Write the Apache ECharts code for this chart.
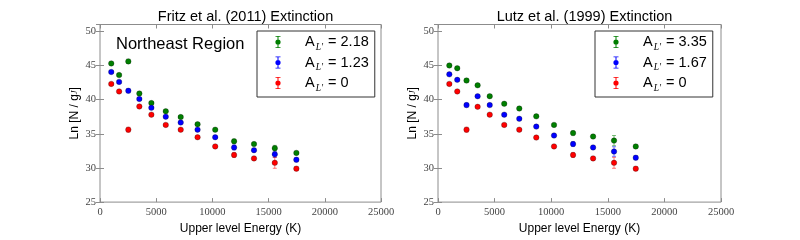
<!DOCTYPE html>
<html><head><meta charset="utf-8">
<script src="https://cdn.jsdelivr.net/npm/echarts@6/dist/echarts.min.js"></script>
<style>html,body{margin:0;padding:0;background:#fff}#c{width:800px;height:240px}</style>
</head><body><div id="c"></div>
<script>
// ---- data ----
const energyK = [1000,1700,2520,3500,4570,5850,7180,8680,10250,11930,13700,15550,17470];
// Fritz et al. (2011)
const fritzGreen = [45.3,43.6,45.6,40.9,39.5,38.3,37.45,36.4,35.6,33.9,33.5,32.9,32.2];
const fritzGreenErr = [0.2,0.2,0.3,0.2,0.2,0.2,0.2,0.2,0.2,0.3,0.2,0.4,0.25];
const fritzBlue = [44.05,42.6,41.3,40.1,38.8,37.5,36.65,35.6,34.5,33.0,32.6,32.0,31.2];
const fritzBlueErr = [0.15,0.15,0.3,0.15,0.15,0.15,0.15,0.15,0.15,0.35,0.2,0.45,0.3];
const fritzRed = [42.3,41.2,35.6,39.0,37.8,36.3,35.6,34.5,33.15,31.9,31.4,30.75,29.9];
const fritzRedErr = [0.15,0.15,0.35,0.15,0.15,0.15,0.15,0.15,0.15,0.35,0.2,0.8,0.3];
// Lutz et al. (1999)
const lutzGreen = [45.0,44.6,42.8,42.1,40.5,39.4,38.7,37.55,36.3,35.1,34.6,34.0,33.15];
const lutzGreenErr = [0.2,0.2,0.3,0.2,0.2,0.2,0.2,0.2,0.2,0.3,0.2,0.75,0.25];
const lutzBlue = [43.7,42.9,39.2,40.5,39.2,37.8,37.2,36.05,34.75,33.5,33.0,32.4,31.5];
const lutzBlueErr = [0.15,0.15,0.3,0.15,0.15,0.15,0.15,0.15,0.15,0.35,0.2,0.7,0.3];
const lutzRed = [42.3,41.2,35.6,38.95,37.8,36.3,35.6,34.45,33.15,31.9,31.4,30.75,29.9];
const lutzRedErr = [0.15,0.15,0.35,0.15,0.15,0.15,0.15,0.15,0.15,0.35,0.2,0.8,0.3];
const fritzLabels = ['2.18','1.23','0'];
const lutzLabels = ['3.35','1.67','0'];
const titles = ['Fritz et al. (2011) Extinction','Lutz et al. (1999) Extinction'];
const regionLabel = 'Northeast Region';
const xName = 'Upper level Energy (K)';

// ---- styling ----
const colors = ['#007f00','#0000ff','#ff0000'];
const errColors = ['rgba(0,128,0,0.5)','rgba(0,0,255,0.5)','rgba(255,0,0,0.5)'];
const frame = '#8c8c8c';
const serif = 'Liberation Serif';
const sans = 'Liberation Sans';

const chart = echarts.init(document.getElementById('c'), null, {renderer:'canvas'});

const grids = [
  {left:100, right:419, top:24.5, bottom:31, show:true, borderColor:frame, borderWidth:1, backgroundColor:'#fff'},
  {left:438, right:79, top:24.5, bottom:31, show:true, borderColor:frame, borderWidth:1, backgroundColor:'#fff'}
];
const tick = {show:true, inside:true, length:4, lineStyle:{color:frame, width:1}};
const xAxes = [], yAxes = [];
[0,1].forEach(g => {
  xAxes.push({gridIndex:g, type:'value', min:0, max:25000, interval:5000, position:'bottom',
    axisLine:{show:false}, axisTick:tick, splitLine:{show:false},
    axisLabel:{fontFamily:serif, fontSize:10.5, color:'#444', margin:5, formatter: v => String(v)},
    name:xName, nameLocation:'middle', nameGap:13,
    nameTextStyle:{fontFamily:sans, fontSize:12, color:'#000'}});
  xAxes.push({gridIndex:g, type:'value', min:0, max:25000, interval:5000, position:'top',
    axisLine:{show:false}, axisTick:tick, splitLine:{show:false}, axisLabel:{show:false}});
  yAxes.push({gridIndex:g, type:'value', min:25, max:51, interval:5, position:'left',
    axisLine:{show:false}, axisTick:tick, splitLine:{show:false},
    axisLabel:{fontFamily:serif, fontSize:10.5, color:'#444', margin:4,
      formatter: v => (v % 5 === 0 ? String(v) : '')},
    name:'Ln [N / g{s|J}]', nameLocation:'middle', nameGap:19, nameRotate:90,
    nameTextStyle:{fontFamily:sans, fontSize:12, color:'#000',
      rich:{s:{fontFamily:serif, fontStyle:'italic', fontSize:8.5, color:'#000'}}}});
  yAxes.push({gridIndex:g, type:'value', min:25, max:51, interval:5, position:'right',
    axisLine:{show:false}, axisTick:tick, splitLine:{show:false}, axisLabel:{show:false}});
});

function errSeries(name, xAxisIndex, yAxisIndex, ys, errs, color) {
  return {
    name, type:'custom', xAxisIndex, yAxisIndex, silent:true, z:2,
    data: energyK.map((x,i) => [x, ys[i], errs[i]]),
    renderItem: (params, api) => {
      const x = api.value(0), y = api.value(1), e = api.value(2);
      const top = api.coord([x, y + e]);
      const bot = api.coord([x, y - e]);
      const cw = 2;
      const st = {stroke: color, lineWidth: 1};
      return {type:'group', children:[
        {type:'line', shape:{x1:top[0], y1:top[1], x2:bot[0], y2:bot[1]}, style:st},
        {type:'line', shape:{x1:top[0]-cw, y1:top[1], x2:top[0]+cw, y2:top[1]}, style:st},
        {type:'line', shape:{x1:bot[0]-cw, y1:bot[1], x2:bot[0]+cw, y2:bot[1]}, style:st}
      ]};
    }
  };
}
function dotSeries(name, xAxisIndex, yAxisIndex, ys, color) {
  return {
    name, type:'scatter', xAxisIndex, yAxisIndex, z:3,
    symbol:'circle', symbolSize:5.5,
    itemStyle:{color, borderColor:'rgba(0,0,0,0.55)', borderWidth:0.5, opacity:1},
    data: energyK.map((x,i) => [x, ys[i]])
  };
}
const series = [];
const fritzSets = [[fritzGreen,fritzGreenErr],[fritzBlue,fritzBlueErr],[fritzRed,fritzRedErr]];
const lutzSets = [[lutzGreen,lutzGreenErr],[lutzBlue,lutzBlueErr],[lutzRed,lutzRedErr]];
const fritzNames = fritzLabels.map(v => 'F' + v);
const lutzNames = lutzLabels.map(v => 'L' + v);
fritzSets.forEach((s,i) => {
  series.push(errSeries(fritzNames[i], 0, 0, s[0], s[1], errColors[i]));
  series.push(dotSeries(fritzNames[i], 0, 0, s[0], colors[i]));
});
lutzSets.forEach((s,i) => {
  series.push(errSeries(lutzNames[i], 2, 2, s[0], s[1], errColors[i]));
  series.push(dotSeries(lutzNames[i], 2, 2, s[0], colors[i]));
});

// legend icon: error bar with dot (bbox widened so text sits further right)
const icon = 'path://M0 6L0 6M38 6L38 6M15.5 0h1v12h-1zM13.5 0h5v0.8h-5zM13.5 11.2h5v0.8h-5zM13.4 6a2.6 2.6 0 1 1 5.2 0a2.6 2.6 0 1 1 -5.2 0z';
function legend(names, labels, left) {
  return {
    orient:'vertical', left, top:31, padding:[1,6,4,5],
    itemWidth:38, itemHeight:12, itemGap:0.5, selectedMode:false,
    borderColor:'#333', borderWidth:1, backgroundColor:'#fff',
    icon,
    data: names.map((n,i) => ({name:n, icon, itemStyle:{color:colors[i], borderWidth:0}})),
    formatter: n => {
      const i = names.indexOf(n);
      return '{a|A}{s|L′}{a| = ' + labels[i] + '}';
    },
    textStyle:{fontFamily:sans, fontSize:14.5, color:'#000', lineHeight:20,
      rich:{
        a:{fontFamily:sans, fontSize:14.5, color:'#000', lineHeight:20, verticalAlign:'middle'},
        s:{fontFamily:serif, fontStyle:'italic', fontSize:9.5, color:'#000', lineHeight:14, verticalAlign:'bottom', padding:[6,1,0,1]}
      }}
  };
}

const option = {
  animation:false,
  backgroundColor:'#fff',
  title:[
    {text:titles[0], left:240.5, top:4, textAlign:'center', textStyle:{fontFamily:sans, fontSize:14.5, fontWeight:'normal', color:'#000', lineHeight:16}},
    {text:titles[1], left:579.5, top:4, textAlign:'center', textStyle:{fontFamily:sans, fontSize:14.5, fontWeight:'normal', color:'#000', lineHeight:16}},
    {text:regionLabel, left:111, top:29, textStyle:{fontFamily:sans, fontSize:16.5, fontWeight:'normal', color:'#000', lineHeight:20}}
  ],
  grid: grids,
  xAxis: xAxes,
  yAxis: yAxes,
  legend:[legend(fritzNames, fritzLabels, 257), legend(lutzNames, lutzLabels, 595)],
  series
};
chart.setOption(option);
</script></body></html>
